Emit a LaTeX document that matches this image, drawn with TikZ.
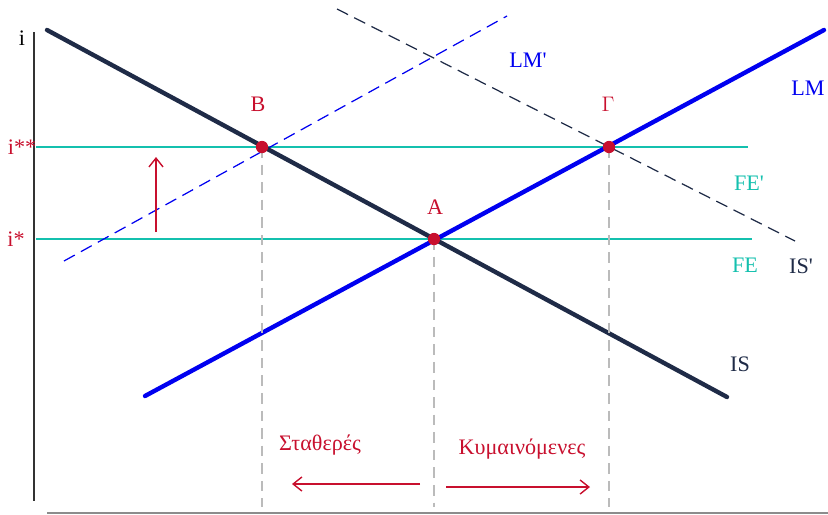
\documentclass[tikz,border=0pt]{standalone}
\usepackage{fontspec}
\setmainfont{Liberation Serif}
\usepackage{xcolor}
\usepackage{tikz}
\usetikzlibrary{arrows.meta}

\definecolor{isnavy}{HTML}{1F2B47}
\definecolor{lmblue}{HTML}{0000F0}
\definecolor{feteal}{HTML}{14C0AE}
\definecolor{ptred}{HTML}{C8102E}
\definecolor{guide}{HTML}{BBBBBB}

\begin{document}
\begin{tikzpicture}[x=0.02cm,y=-0.02cm,font=\fontsize{12.6}{14}\selectfont]
\useasboundingbox (0,0) rectangle (828,514);
% axes
\draw[line width=1pt,black!80] (34,32) -- (34,501);
\draw[line width=1pt,black!45] (47,513) -- (828,513);
\node[anchor=center] (ilab) at (22,38) {i};

% FE lines
\draw[line width=1.6pt,feteal] (36,239) -- (752,239);
\draw[line width=1.6pt,feteal] (36,147) -- (748,147);

% shifted curves
\draw[line width=0.7pt,lmblue,dash pattern=on 7pt off 4pt] (64,261) -- (507,16);
\draw[line width=0.7pt,isnavy,dash pattern=on 7pt off 4pt] (337,9) -- (795,241);

% IS and LM
\draw[line width=2.5pt,isnavy,line cap=round] (47,30) -- (727,397);
\draw[line width=2.5pt,lmblue,line cap=round] (145,396) -- (824,30);

% equilibrium points
\coordinate (B) at (262,147);
\coordinate (A) at (434,239);
\coordinate (G) at (609,147);
\draw[line width=0.8pt,guide,dash pattern=on 6pt off 4pt] (B) -- (262,507);
\draw[line width=0.8pt,guide,dash pattern=on 6pt off 4pt] (A) -- (434,507);
\draw[line width=0.8pt,guide,dash pattern=on 6pt off 4pt] (G) -- (609,507);
\foreach \p in {A,B,G}
  \fill[ptred] (\p) circle (3.5pt);

% labels
\node[ptred] (blab) at (258,104) {B};
\node[ptred] (glab) at (608,104) {$\Gamma$};
\node[ptred] (alab) at (435,207) {A};
\node[ptred] (iss) at (22,147) {i**};
\node[ptred] (is) at (16,239) {i*};
\node[lmblue] (lmp) at (528,60) {LM\textquotesingle};
\node[lmblue] (lm) at (808,88) {LM};
\node[feteal] (fep) at (749,183) {FE\textquotesingle};
\node[feteal] (fe) at (745,265) {FE};
\node[isnavy] (isp) at (801,266) {IS\textquotesingle};
\node[isnavy] (islab) at (740,364) {IS};

% movement arrows
\draw[ptred,line width=0.8pt,-{Straight Barb[length=5pt,width=8pt]}] (156,232) -- (156,157);
\node[ptred] (fixed) at (320,445) {Σταθερές};
\node[ptred] (float) at (522,449) {Κυμαινόμενες};
\coordinate (fixL) at (292,484);
\coordinate (fixR) at (420,484);
\coordinate (flL) at (446,487);
\coordinate (flR) at (590,487);
\draw[ptred,line width=0.8pt,-{Straight Barb[length=5pt,width=8pt]}] (fixR) -- (fixL);
\draw[ptred,line width=0.8pt,-{Straight Barb[length=5pt,width=8pt]}] (flL) -- (flR);
\end{tikzpicture}
\end{document}
